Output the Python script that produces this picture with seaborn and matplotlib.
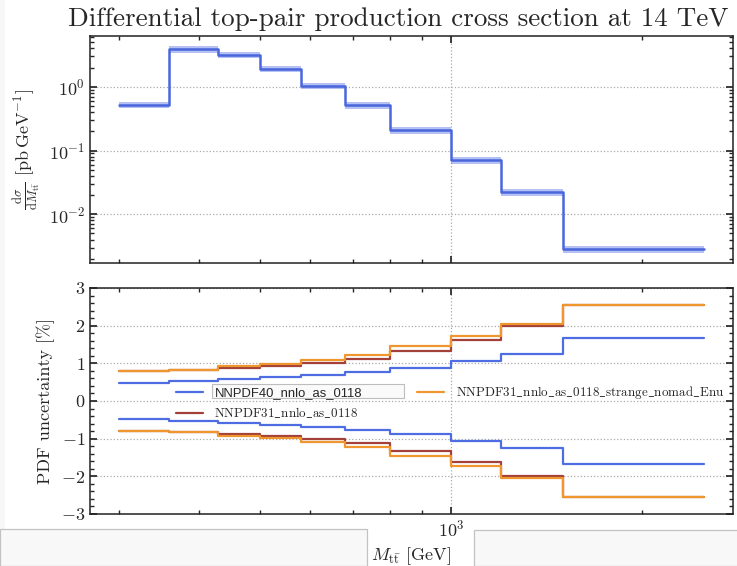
import numpy as np
import pandas as pd
import matplotlib
matplotlib.use("Agg")
import matplotlib.pyplot as plt
import seaborn as sns
from matplotlib.lines import Line2D
from matplotlib.patches import Rectangle
from matplotlib.ticker import AutoMinorLocator, NullFormatter

# ---- data -------------------------------------------------------------
bin_edges = [300, 360, 430, 500, 580, 680, 800, 1000, 1200, 1500, 2500]

# differential cross section [pb/GeV] and its band
xsec_central = [0.52, 3.86, 3.14, 1.90, 1.04, 0.51, 0.207, 0.070, 0.0222, 0.00283]
xsec_up = [0.58, 4.30, 3.50, 2.12, 1.16, 0.57, 0.231, 0.078, 0.0248, 0.00316]
xsec_down = [0.46, 3.42, 2.78, 1.68, 0.92, 0.45, 0.183, 0.062, 0.0196, 0.00250]

# PDF uncertainty [%] per bin
pdf_names = ["NNPDF40_nnlo_as_0118", "NNPDF31_nnlo_as_0118",
             "NNPDF31_nnlo_as_0118_strange_nomad_Enu"]
nnpdf40_up = [0.49, 0.53, 0.58, 0.64, 0.70, 0.78, 0.88, 1.06, 1.26, 1.67]
nnpdf40_down = [-0.49, -0.53, -0.58, -0.64, -0.70, -0.78, -0.88, -1.06, -1.26, -1.67]
nnpdf31_up = [0.79, 0.82, 0.88, 0.93, 1.01, 1.12, 1.34, 1.62, 1.98, 2.56]
nnpdf31_down = [-0.79, -0.82, -0.88, -0.93, -1.01, -1.12, -1.34, -1.62, -1.98, -2.56]
strange_up = [0.79, 0.83, 0.92, 0.99, 1.09, 1.23, 1.45, 1.72, 2.05, 2.56]
strange_down = [-0.79, -0.83, -0.92, -0.99, -1.09, -1.23, -1.45, -1.72, -2.05, -2.56]

pdf_colors = ["#4f6de3", "#a3403a", "#f0962e"]

# ---- style ------------------------------------------------------------
sns.set_theme(style="ticks")
plt.rcParams.update({
    "font.family": ["cmr10", "DejaVu Serif"],
    "mathtext.fontset": "cm",
    "axes.formatter.use_mathtext": True,
    "axes.unicode_minus": True,
    "axes.edgecolor": "#222222",
    "axes.linewidth": 1.1,
    "xtick.direction": "in",
    "ytick.direction": "in",
    "xtick.top": True,
    "ytick.right": True,
    "xtick.major.size": 5,
    "ytick.major.size": 5,
    "xtick.minor.size": 3,
    "ytick.minor.size": 3,
    "xtick.minor.visible": True,
    "ytick.minor.visible": True,
    "xtick.labelsize": 13,
    "ytick.labelsize": 13,
    "axes.labelsize": 13,
})


def step_y(vals):
    return list(vals) + [vals[-1]]


def tex_label(name):
    return r"$\mathrm{" + name.replace("_", r"\_") + "}$"


fig = plt.figure(figsize=(7.37, 5.66), dpi=100)
ax_top = fig.add_axes([0.1221, 0.5353, 0.8725, 0.4011])
ax_bot = fig.add_axes([0.1221, 0.0919, 0.8725, 0.3993], sharex=ax_top)

# ---- top panel: cross section -----------------------------------------
ax_top.fill_between(bin_edges, step_y(xsec_down), step_y(xsec_up),
                    step="post", color="#4f6de3", alpha=0.42, lw=0)
sns.lineplot(x=bin_edges, y=step_y(xsec_central), drawstyle="steps-post",
             estimator=None, sort=False, color="#4a66dc", lw=1.8, ax=ax_top)
ax_top.set_xscale("log")
ax_top.set_yscale("log")
ax_top.set_ylabel(r"$\frac{\mathrm{d}\sigma}{\mathrm{d}M_{\mathrm{t\bar{t}}}}\ "
                  r"[\mathrm{pb\,GeV^{-1}}]$", fontsize=13)
ax_top.set_title("Differential top-pair production cross section at 14 TeV",
                 fontsize=19.5, pad=7)
ax_top.title.set_x(0.479)
ax_top.tick_params(axis="x", which="both", labelbottom=False)
ax_top.grid(True, which="major", ls=":", color="#aaaaaa", lw=0.9)

# ---- bottom panel: PDF uncertainties ----------------------------------
rows = []
for name, up, down in zip(pdf_names,
                          [nnpdf40_up, nnpdf31_up, strange_up],
                          [nnpdf40_down, nnpdf31_down, strange_down]):
    for side, vals in (("up", up), ("down", down)):
        for x, y in zip(bin_edges, step_y(vals)):
            rows.append({"M": x, "unc": y, "pdf": name, "side": side})
unc_df = pd.DataFrame(rows)

sns.lineplot(data=unc_df, x="M", y="unc", hue="pdf", units="side",
             hue_order=pdf_names, palette=pdf_colors, estimator=None,
             sort=False, drawstyle="steps-post", lw=1.6, legend=False, ax=ax_bot)
ax_bot.set_xscale("log")
ax_bot.set_ylim(-3, 3)
ax_bot.set_yticks([-3, -2, -1, 0, 1, 2, 3])
ax_bot.yaxis.set_minor_locator(AutoMinorLocator(5))
ax_bot.xaxis.set_minor_formatter(NullFormatter())
ax_bot.set_ylabel("PDF uncertainty [%]", fontsize=13)
ax_bot.set_xlabel(r"$M_{\mathrm{t\bar{t}}}$ [GeV]", fontsize=13)
ax_bot.grid(True, which="major", ls=":", color="#aaaaaa", lw=0.9)

handles = [Line2D([], [], color=c, lw=1.6) for c in pdf_colors]
labels = [pdf_names[0]] + [tex_label(n) for n in pdf_names[1:]]
leg = ax_bot.legend(handles, labels, ncol=2, frameon=False, fontsize=9.4,
                    loc="upper left", bbox_to_anchor=(0.115, 0.625),
                    handlelength=2.07, handletextpad=0.9, columnspacing=4.2,
                    labelspacing=0.45)
leg.set_zorder(6)
leg.get_texts()[0].set_fontfamily("Liberation Sans")

# boxed entry behind the first legend label
box = Rectangle((212 / 737, 1 - 398 / 566), 192 / 737, 14 / 566,
                transform=fig.transFigure, facecolor="#fafafa",
                edgecolor="#bdbdbd", lw=0.8, zorder=4, clip_on=False)
ax_bot.add_artist(box)

# page panels around the axis label
fig.add_artist(Rectangle((0, 0), 5 / 737, 1, transform=fig.transFigure,
                         facecolor="#f7f7f7", edgecolor="none", zorder=0.2))
fig.add_artist(Rectangle((0, 0), 367 / 737, 37 / 566, transform=fig.transFigure,
                         facecolor="#f8f8f8", edgecolor="#c2c2c2", lw=0.9,
                         zorder=0.2))
fig.add_artist(Rectangle((474 / 737, 0), 0.5, 36 / 566, transform=fig.transFigure,
                         facecolor="#f8f8f8", edgecolor="#c2c2c2", lw=0.9,
                         zorder=0.2))
ax_bot.set_facecolor("none")
ax_top.set_facecolor("none")

fig.savefig("out.png", dpi=100)
